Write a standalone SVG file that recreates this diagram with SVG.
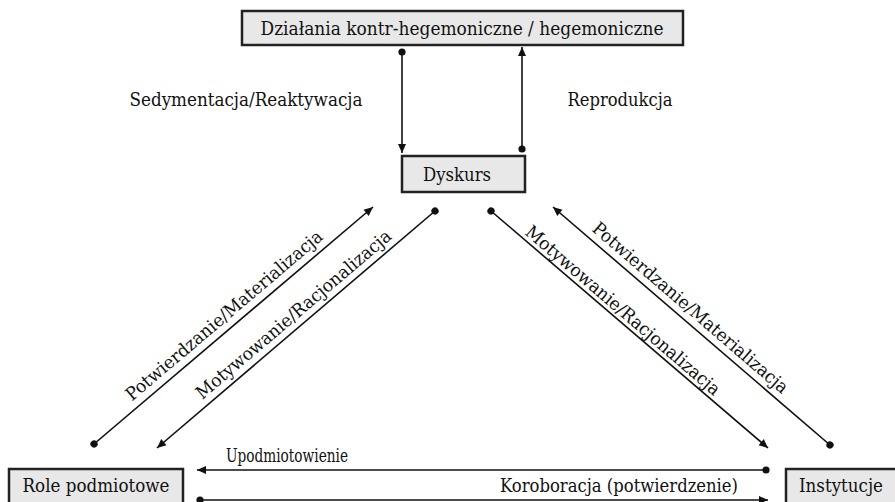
<svg xmlns="http://www.w3.org/2000/svg" width="895" height="502" viewBox="0 0 895 502">
<style>
.box{fill:#e8e8e8;stroke:#222;stroke-width:2.5}
.t{font-family:"DejaVu Serif","Liberation Serif",serif;font-size:18px;fill:#111}
.ln{stroke:#111;stroke-width:1.6;fill:none;marker-start:url(#dot);marker-end:url(#arr)}
</style>
<defs>
<marker id="dot" markerUnits="userSpaceOnUse" markerWidth="10" markerHeight="10" refX="5" refY="5" orient="auto"><circle cx="5" cy="5" r="3.6" fill="#111"/></marker>
<marker id="arr" markerUnits="userSpaceOnUse" markerWidth="12" markerHeight="10" refX="10" refY="5" orient="auto"><path d="M1,1 L10,5 L1,9 Z" fill="#111"/></marker>
</defs>
<rect width="895" height="502" fill="#fff"/>
<g id="n-top"><rect class="box" x="242" y="11" width="441" height="34"/><text class="t" x="462" y="35" text-anchor="middle" textLength="403" lengthAdjust="spacingAndGlyphs">Działania kontr-hegemoniczne / hegemoniczne</text></g>
<g id="n-dyskurs"><rect class="box" x="402" y="156" width="123" height="36"/><text class="t" x="457" y="181" text-anchor="middle" textLength="68" lengthAdjust="spacingAndGlyphs">Dyskurs</text></g>
<g id="n-role"><rect class="box" x="9" y="469" width="174" height="42"/><text class="t" x="96" y="492" text-anchor="middle" textLength="147" lengthAdjust="spacingAndGlyphs">Role podmiotowe</text></g>
<g id="n-inst"><rect class="box" x="786" y="469" width="120" height="42"/><text class="t" x="841" y="492" text-anchor="middle" textLength="84" lengthAdjust="spacingAndGlyphs">Instytucje</text></g>
<g id="connectors">
<line class="ln" x1="402" y1="52" x2="402" y2="153"/>
<line class="ln" x1="522" y1="149" x2="522" y2="47"/>
<line class="ln" x1="94" y1="444" x2="373" y2="207"/>
<line class="ln" x1="435" y1="211" x2="157" y2="448"/>
<line class="ln" x1="491" y1="211" x2="768" y2="448"/>
<line class="ln" x1="830" y1="445" x2="553" y2="207"/>
<line class="ln" x1="766" y1="470" x2="197" y2="470"/>
<line class="ln" x1="200" y1="500" x2="768" y2="500"/>
</g>
<g id="labels">
<text class="t" x="246" y="106" text-anchor="middle" textLength="233" lengthAdjust="spacingAndGlyphs">Sedymentacja/Reaktywacja</text>
<text class="t" x="620" y="106" text-anchor="middle" textLength="105" lengthAdjust="spacingAndGlyphs">Reprodukcja</text>
<text class="t" text-anchor="middle" textLength="252" lengthAdjust="spacingAndGlyphs" transform="translate(228,320) rotate(-40.35)">Potwierdzanie/Materializacja</text>
<text class="t" text-anchor="middle" textLength="250" lengthAdjust="spacingAndGlyphs" transform="translate(297.5,319) rotate(-40.4)">Motywowanie/Racjonalizacja</text>
<text class="t" text-anchor="middle" textLength="250" lengthAdjust="spacingAndGlyphs" transform="translate(619,315) rotate(40.55)">Motywowanie/Racjonalizacja</text>
<text class="t" text-anchor="middle" textLength="252" lengthAdjust="spacingAndGlyphs" transform="translate(686.5,312.4) rotate(40.65)">Potwierdzanie/Materializacja</text>
<text class="t" x="287" y="462" text-anchor="middle" textLength="122" lengthAdjust="spacingAndGlyphs">Upodmiotowienie</text>
<text class="t" x="619" y="492" text-anchor="middle" textLength="238" lengthAdjust="spacingAndGlyphs">Koroboracja (potwierdzenie)</text>
</g>
</svg>
